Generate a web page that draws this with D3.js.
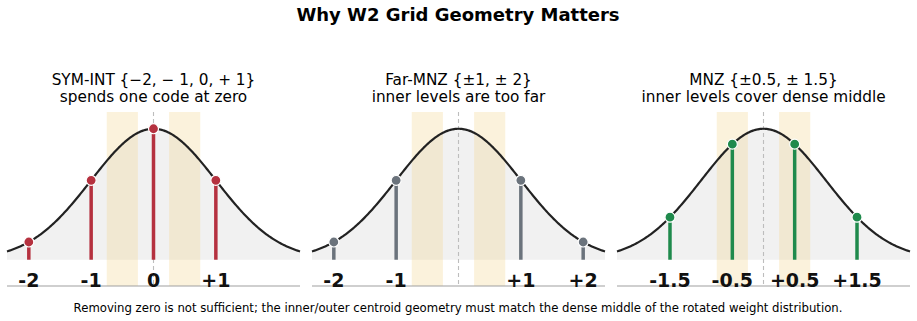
<!DOCTYPE html>
<html>
<head>
<meta charset="utf-8">
<script src="https://cdn.jsdelivr.net/npm/d3@7"></script>
<style>
  body { margin: 0; background: #fff; }
  text { font-family: "DejaVu Sans", sans-serif; }
</style>
</head>
<body>
<svg id="chart" width="917" height="321"></svg>
<script>
// chart data
const panelTitles = [
  "SYM-INT {\u22122, \u2212 1, 0, + 1}",
  "Far-MNZ {\u00b11, \u00b1 2}",
  "MNZ {\u00b10.5, \u00b1 1.5}"
];
const panelSubtitles = [
  "spends one code at zero",
  "inner levels are too far",
  "inner levels cover dense middle"
];
const symIntLevels = [-2, -1, 0, 1];
const farMnzLevels = [-2, -1, 1, 2];
const mnzLevels = [-1.5, -0.5, 0.5, 1.5];
const symIntLabels = ["-2", "-1", "0", "+1"];
const farMnzLabels = ["-2", "-1", "+1", "+2"];
const mnzLabels = ["-1.5", "-0.5", "+0.5", "+1.5"];
const levelColors = ["#b5313f", "#6b737c", "#1f8a4c"];
const denseBands = [[-0.75, -0.25], [0.25, 0.75]];

const mainTitle = "Why W2 Grid Geometry Matters";
const footNote = "Removing zero is not sufficient; the inner/outer centroid geometry must match the dense middle of the rotated weight distribution.";

const panels = [
  { levels: symIntLevels, labels: symIntLabels },
  { levels: farMnzLevels, labels: farMnzLabels },
  { levels: mnzLevels, labels: mnzLabels }
];

// standard normal density (the rotated weight distribution)
const pdf = v => Math.exp(-v * v / 2) / Math.sqrt(2 * Math.PI);
const xs = d3.range(-2.35, 2.3501, 0.02);

const svg = d3.select("#chart");
const axLeft = [7, 312, 617];
const axW = 293, axTop = 112, axBottom = 286;

svg.append("text")
  .attr("x", 458).attr("y", 21)
  .attr("text-anchor", "middle")
  .attr("font-size", 18).attr("font-weight", "bold")
  .text(mainTitle);

svg.append("text")
  .attr("x", 458).attr("y", 312)
  .attr("text-anchor", "middle")
  .attr("font-size", 11.7)
  .text(footNote);

panels.forEach((p, i) => {
  const g = svg.append("g").attr("transform", "translate(" + axLeft[i] + ",0)");
  const x = d3.scaleLinear().domain([-2.35, 2.35]).range([0, axW]);
  const y = d3.scaleLinear().domain([-0.08, 0.45]).range([axBottom, axTop]);
  const cx = x(0);

  g.append("text")
    .attr("x", cx).attr("y", 85)
    .attr("text-anchor", "middle").attr("font-size", 15.3)
    .text(panelTitles[i]);
  g.append("text")
    .attr("x", cx).attr("y", 102)
    .attr("text-anchor", "middle").attr("font-size", 15.3)
    .text(panelSubtitles[i]);

  // fill under the curve
  const area = d3.area().x(d => x(d)).y0(y(0)).y1(d => y(pdf(d)));
  g.append("path").datum(xs)
    .attr("d", area)
    .attr("fill", "#f1f1f1");

  // dense-middle bands
  denseBands.forEach(b => {
    g.append("rect")
      .attr("x", x(b[0])).attr("y", axTop)
      .attr("width", x(b[1]) - x(b[0])).attr("height", axBottom - axTop)
      .attr("fill", "#f3d58c").attr("opacity", 0.3);
  });

  // zero line
  g.append("line")
    .attr("x1", cx).attr("x2", cx)
    .attr("y1", axTop).attr("y2", axBottom)
    .attr("stroke", "#bdbdbd").attr("stroke-width", 1.1)
    .attr("stroke-dasharray", "4,3");

  // curve
  const line = d3.line().x(d => x(d)).y(d => y(pdf(d)));
  g.append("path").datum(xs)
    .attr("d", line)
    .attr("fill", "none")
    .attr("stroke", "#222")
    .attr("stroke-width", 2.2);

  // stems
  g.selectAll(".stem").data(p.levels).enter().append("line")
    .attr("class", "stem")
    .attr("x1", d => x(d)).attr("x2", d => x(d))
    .attr("y1", y(0)).attr("y2", d => y(pdf(d)))
    .attr("stroke", levelColors[i]).attr("stroke-width", 3.5);

  g.selectAll(".dot").data(p.levels).enter().append("circle")
    .attr("class", "dot")
    .attr("cx", d => x(d)).attr("cy", d => y(pdf(d)))
    .attr("r", 5)
    .attr("fill", levelColors[i])
    .attr("stroke", "#fff").attr("stroke-width", 1.2);

  // bottom spine
  g.append("line")
    .attr("x1", 0).attr("x2", axW)
    .attr("y1", axBottom).attr("y2", axBottom)
    .attr("stroke", "#a0a0a0").attr("stroke-width", 1.2);

  g.selectAll(".lvl").data(p.levels).enter().append("text")
    .attr("class", "lvl")
    .attr("x", d => x(d)).attr("y", 287)
    .attr("text-anchor", "middle")
    .attr("font-size", 19).attr("font-weight", "bold")
    .attr("fill", "#111")
    .text((d, j) => p.labels[j]);
});
</script>
</body>
</html>
